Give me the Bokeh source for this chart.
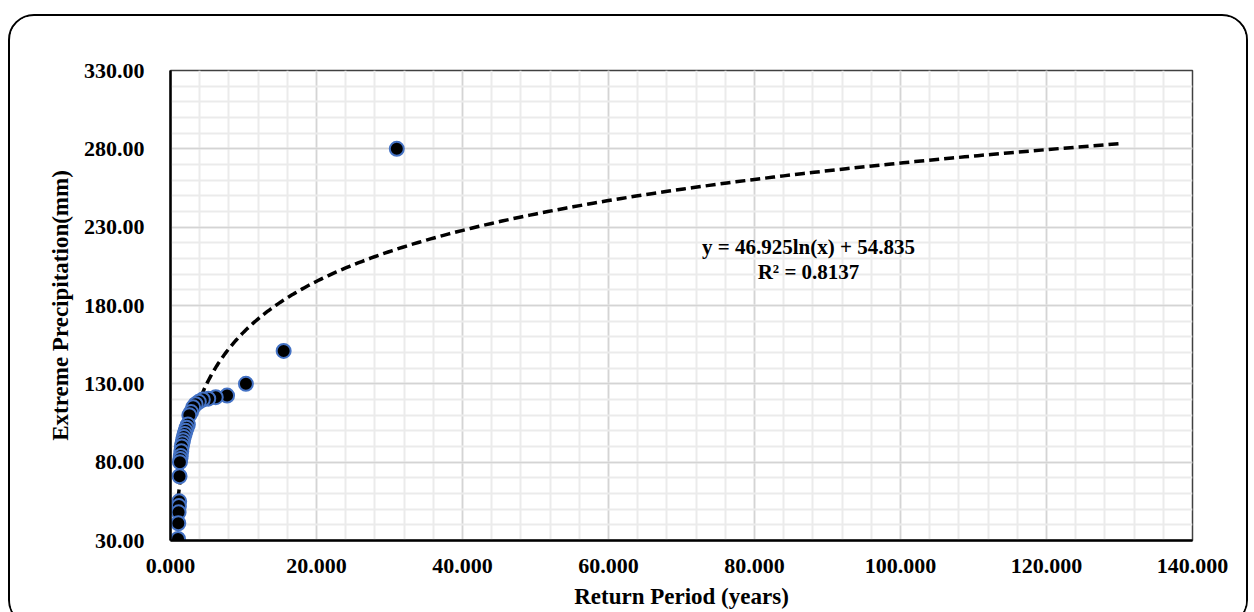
import numpy as np
from bokeh.plotting import figure
from bokeh.models import FixedTicker, NumeralTickFormatter, ColumnDataSource, Label
from bokeh.embed import file_html
from bokeh.resources import INLINE

# ---- data ----
return_period = [31.0, 15.5, 10.33, 7.75, 6.2, 5.17, 4.43, 3.88, 3.44, 3.1,
                 2.82, 2.58, 2.38, 2.21, 2.07, 1.94, 1.82, 1.72, 1.63, 1.55,
                 1.48, 1.41, 1.35, 1.29, 1.24, 1.19, 1.15, 1.11, 1.07, 1.03]
precip = [280.0, 151.0, 130.0, 122.5, 121.5, 120.5, 120.0, 118.5, 117.0, 115.0,
          112.0, 110.0, 104.0, 102.0, 100.0, 98.0, 96.0, 94.0, 92.0, 90.0,
          87.0, 84.0, 82.0, 80.0, 71.0, 55.0, 52.0, 48.0, 41.0, 31.0]

# logarithmic trendline shown on the chart
trend_a = 46.925
trend_b = 54.835
trend_x_end = 130.0
eq_text = "y = 46.925ln(x) + 54.835"
r2_text = "R² = 0.8137"

x_major = [0, 20, 40, 60, 80, 100, 120, 140]
x_minor = [v for v in range(0, 141, 4)]
y_major = [30, 80, 130, 180, 230, 280, 330]
y_minor = [v for v in range(30, 331, 10)]

FONT = "Liberation Serif"

p = figure(width=1240, height=612, x_range=(0, 140), y_range=(30, 330),
           output_backend="svg", toolbar_location=None,
           min_border_left=160, min_border_right=58, min_border_top=54,
           min_border_bottom=88)
p.styles = {"margin-left": "8px", "margin-top": "14px",
            "border": "2px solid black", "border-radius": "26px",
            "overflow": "hidden"}

p.outline_line_color = "#404040"
p.outline_line_width = 1.5

# ticks / grids
p.xaxis.ticker = FixedTicker(ticks=x_major, minor_ticks=x_minor)
p.yaxis.ticker = FixedTicker(ticks=y_major, minor_ticks=y_minor)
p.xaxis.formatter = NumeralTickFormatter(format="0.000")
p.yaxis.formatter = NumeralTickFormatter(format="0.00")

for g in (p.xgrid, p.ygrid):
    g.grid_line_color = "#d4d4d4"
    g.grid_line_width = 1.5
    g.minor_grid_line_color = "#ebebeb"
    g.minor_grid_line_width = 2

for ax in (p.xaxis, p.yaxis):
    ax.axis_line_color = "black"
    ax.axis_line_width = 2.5
    ax.major_tick_line_color = None
    ax.minor_tick_line_color = None
    ax.major_label_text_font = FONT
    ax.major_label_text_font_style = "bold"
    ax.major_label_text_font_size = "22px"
    ax.major_label_text_color = "black"
    ax.axis_label_text_font = FONT
    ax.axis_label_text_font_style = "bold"
    ax.axis_label_text_font_size = "23px"
    ax.axis_label_text_color = "black"

p.xaxis.axis_label = "Return Period (years)"
p.yaxis.axis_label = "Extreme Precipitation(mm)"
p.xaxis.major_label_standoff = 12
p.yaxis.major_label_standoff = 20
p.xaxis.axis_label_standoff = 8
p.yaxis.axis_label_standoff = 8

# trendline
tx = np.geomspace(min(return_period), trend_x_end, 300)
ty = trend_a * np.log(tx) + trend_b
p.line(tx, ty, line_color="black", line_width=3.5, line_dash="10 5")

# points
src = ColumnDataSource(dict(x=return_period, y=precip))
p.scatter("x", "y", source=src, size=14, fill_color="black",
          line_color="#4472C4", line_width=2)

# equation labels
p.add_layout(Label(x=87.4, y=217.5, text=eq_text, text_align="center",
                   text_baseline="middle", text_font=FONT,
                   text_font_style="bold", text_font_size="21px",
                   text_color="black"))
p.add_layout(Label(x=87.4, y=201.6, text=r2_text, text_align="center",
                   text_baseline="middle", text_font=FONT,
                   text_font_style="bold", text_font_size="21px",
                   text_color="black"))

html = file_html(p, INLINE)
html = html.replace("<body>", '<body style="margin:0;overflow:hidden">', 1)
open("out.html", "w").write(html)
